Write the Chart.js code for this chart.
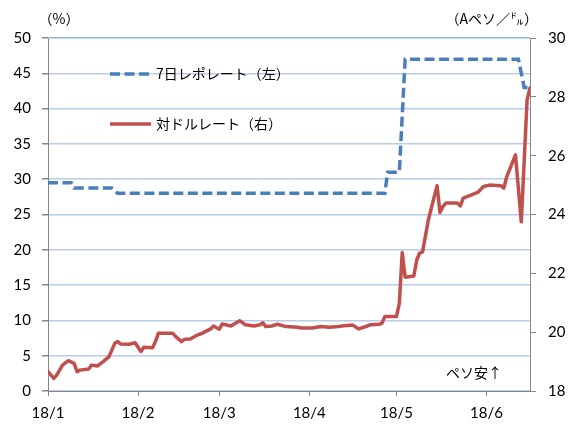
<!DOCTYPE html>
<html>
<head>
<meta charset="utf-8">
<script src="https://cdn.jsdelivr.net/npm/chart.js@4/dist/chart.umd.min.js"></script>
<style>
  html, body { margin: 0; padding: 0; background: #ffffff; }
  #wrap { width: 572px; height: 427px; position: relative; }
</style>
</head>
<body>
<div id="wrap"><canvas id="chart" width="572" height="427"></canvas></div>
<script>
// 7-day repo rate (%, left axis): dates where the level starts/ends
const repoDates = [
  '2018-01-01', '2018-01-09', '2018-01-10', '2018-01-23', '2018-01-25',
  '2018-04-27', '2018-04-28', '2018-05-02', '2018-05-04', '2018-06-12',
  '2018-06-14', '2018-06-16'
];
const repoRate = [
  29.5, 29.5, 28.75, 28.75, 28.0,
  28.0, 31.0, 31.0, 47.0, 47.0,
  43.0, 43.0
];

// Peso per dollar (right axis)
const fxDates = [
  '2018-01-01', '2018-01-03', '2018-01-04', '2018-01-06', '2018-01-08',
  '2018-01-10', '2018-01-11', '2018-01-12', '2018-01-15', '2018-01-16',
  '2018-01-18', '2018-01-20', '2018-01-22', '2018-01-24', '2018-01-25',
  '2018-01-26', '2018-01-29', '2018-01-31', '2018-02-02', '2018-02-03',
  '2018-02-06', '2018-02-07', '2018-02-08', '2018-02-13', '2018-02-14',
  '2018-02-16', '2018-02-17', '2018-02-19', '2018-02-21', '2018-02-23',
  '2018-02-26', '2018-02-27', '2018-03-01', '2018-03-02', '2018-03-05',
  '2018-03-08', '2018-03-10', '2018-03-13', '2018-03-15', '2018-03-16',
  '2018-03-17', '2018-03-19', '2018-03-21', '2018-03-24', '2018-03-28',
  '2018-03-29', '2018-04-02', '2018-04-05', '2018-04-08', '2018-04-11',
  '2018-04-13', '2018-04-16', '2018-04-18', '2018-04-21', '2018-04-22',
  '2018-04-25', '2018-04-26', '2018-04-27', '2018-05-01', '2018-05-02',
  '2018-05-03', '2018-05-04', '2018-05-07', '2018-05-08', '2018-05-09',
  '2018-05-10', '2018-05-12', '2018-05-15', '2018-05-16', '2018-05-17',
  '2018-05-18', '2018-05-22', '2018-05-23', '2018-05-24', '2018-05-26',
  '2018-05-29', '2018-05-31', '2018-06-02', '2018-06-06', '2018-06-07',
  '2018-06-08', '2018-06-11', '2018-06-13', '2018-06-15', '2018-06-16'
];
const fxRate = [
  18.66, 18.43, 18.54, 18.88, 19.03,
  18.94, 18.66, 18.71, 18.75, 18.88,
  18.85, 19.00, 19.17, 19.62, 19.68,
  19.60, 19.59, 19.64, 19.34, 19.49,
  19.47, 19.68, 19.96, 19.96, 19.85,
  19.68, 19.76, 19.77, 19.88, 19.96,
  20.11, 20.21, 20.10, 20.28, 20.21,
  20.39, 20.25, 20.21, 20.25, 20.32,
  20.19, 20.21, 20.27, 20.19, 20.17,
  20.14, 20.14, 20.19, 20.17, 20.19,
  20.22, 20.24, 20.11, 20.21, 20.25,
  20.27, 20.30, 20.53, 20.53, 20.98,
  22.71, 21.87, 21.91, 22.46, 22.69,
  22.73, 23.82, 24.98, 24.07, 24.27,
  24.39, 24.39, 24.29, 24.56, 24.63,
  24.75, 24.95, 25.00, 24.98, 24.90,
  25.29, 26.03, 23.75, 27.90, 28.30
];

// Axis ticks and labels
const tickDates  = ['2018-01-01', '2018-02-01', '2018-03-01', '2018-04-01', '2018-05-01', '2018-06-01'];
const tickLabels = ['18/1', '18/2', '18/3', '18/4', '18/5', '18/6'];
const axisStart = '2018-01-01';
const axisEnd   = '2018-06-16';

const seriesNames = ['7日レポレート（左）', '対ドルレート（右）'];
const leftUnit  = '（%）';
const rightUnit = '（Aペソ／㌦）';
const noteText  = 'ペソ安↑';

const DAY = 86400000;
const dayOf = s => (Date.parse(s) - Date.parse(axisStart)) / DAY;

const BLUE = '#4a7ebb';
const RED  = '#c0504d';
const AXIS = '#868686';
const GRID = '#b9cde5';
const numFont = { family: 'Lato, "Liberation Sans", sans-serif', size: 15 };
const jpFont  = '"Noto Sans CJK JP", "Noto Sans", sans-serif';

// Titles, note and the in-plot legend
const annotations = {
  id: 'annotations',
  afterDraw(chart) {
    const c = chart.ctx;
    c.save();
    c.fillStyle = '#000';
    c.textBaseline = 'middle';
    c.font = '14px ' + jpFont;
    c.textAlign = 'center';
    c.fillText(leftUnit, 59, 19);
    c.textAlign = 'right';
    c.fillText(rightUnit, 538, 19);
    c.textAlign = 'left';
    c.fillText(noteText, 446, 373);

    const sets = chart.data.datasets;
    const rows = [
      { ds: sets[1], y: 74, name: seriesNames[0] },
      { ds: sets[0], y: 124, name: seriesNames[1] }
    ];
    rows.forEach(r => {
      c.beginPath();
      c.strokeStyle = r.ds.borderColor;
      c.lineWidth = r.ds.borderWidth;
      c.setLineDash(r.ds.borderDash || []);
      c.moveTo(110, r.y);
      c.lineTo(151, r.y);
      c.stroke();
      c.setLineDash([]);
      c.fillText(r.name, 156, r.y);
    });
    c.restore();
  }
};

new Chart(document.getElementById('chart'), {
  type: 'line',
  data: {
    datasets: [
      {
        label: seriesNames[1],
        data: fxDates.map((d, i) => ({ x: dayOf(d), y: fxRate[i] })),
        yAxisID: 'y1',
        borderColor: RED,
        borderWidth: 3.5,
        borderJoinStyle: 'round',
        borderCapStyle: 'round',
        pointRadius: 0,
        tension: 0
      },
      {
        label: seriesNames[0],
        data: repoDates.map((d, i) => ({ x: dayOf(d), y: repoRate[i] })),
        yAxisID: 'y',
        borderColor: BLUE,
        borderWidth: 3.5,
        borderDash: [10, 4.5],
        pointRadius: 0,
        tension: 0
      }
    ]
  },
  options: {
    responsive: false,
    animation: false,
    devicePixelRatio: 1,
    layout: { padding: { top: 38, left: 0, right: 0, bottom: 0 } },
    plugins: { legend: { display: false }, tooltip: { enabled: false } },
    scales: {
      x: {
        type: 'linear',
        min: dayOf(axisStart),
        max: dayOf(axisEnd),
        afterBuildTicks: s => { s.ticks = tickDates.map(d => ({ value: dayOf(d) })); },
        afterFit: s => { s.height = 36; },
        ticks: {
          autoSkip: false,
          maxRotation: 0,
          padding: 8,
          color: '#000',
          font: numFont,
          callback: (v, i) => tickLabels[i]
        },
        grid: { drawOnChartArea: false, tickLength: 5, tickColor: AXIS },
        border: { color: AXIS, width: 1 }
      },
      y: {
        position: 'left',
        min: 0,
        max: 50,
        afterFit: s => { s.width = 48; },
        ticks: { stepSize: 5, padding: 11, color: '#000', font: numFont },
        grid: {
          color: ctx => (ctx.tick && ctx.tick.value === 50 ? '#8db3e2' : GRID),
          lineWidth: 1.5,
          tickLength: 6,
          tickColor: AXIS
        },
        border: { color: AXIS, width: 1 }
      },
      y1: {
        position: 'right',
        min: 18,
        max: 30,
        afterFit: s => { s.width = 42; },
        ticks: { stepSize: 2, padding: 12, color: '#000', font: numFont },
        grid: { drawOnChartArea: false, tickLength: 6, tickColor: AXIS },
        border: { color: AXIS, width: 1 }
      }
    }
  },
  plugins: [annotations]
});
</script>
</body>
</html>
